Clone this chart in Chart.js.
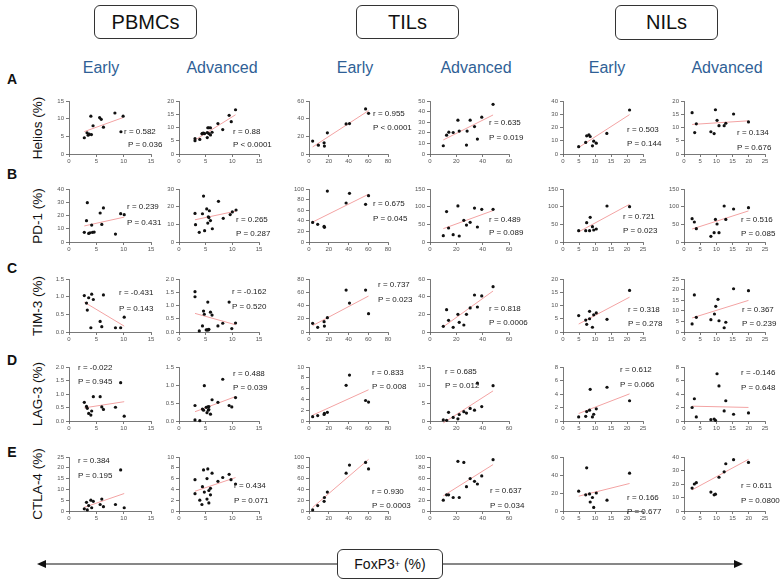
<!DOCTYPE html>
<html>
<head>
<meta charset="utf-8">
<script src="https://cdn.jsdelivr.net/npm/chart.js@4.4.1/dist/chart.umd.min.js"></script>
<style>
  body { margin: 0; width: 780px; height: 580px; position: relative; background: #fff; overflow: hidden;
         font-family: "Liberation Sans", Arial, sans-serif; color: #111; }
  .abs { position: absolute; white-space: nowrap; }
  .box { position: absolute; border: 1px solid #333; border-radius: 6px; background: #fff;
         display: flex; align-items: center; justify-content: center; }
  .head { font-size: 20px; }
  .stage { font-size: 16px; color: #2f5f96; transform: translate(-50%, -50%); }
  .letter { font-size: 14px; font-weight: bold; transform: translate(-50%, -50%); }
  .ytitle { font-size: 13.5px; transform: translate(-50%, -50%) rotate(-90deg); }
  .stat { font-size: 8px; color: #222; transform: translateY(-50%); }
  canvas { position: absolute; }
</style>
</head>
<body>
<svg class="abs" style="left:0;top:0" width="780" height="580">
  <line x1="44" y1="564" x2="337" y2="564" stroke="#111" stroke-width="1.2"/>
  <polygon points="37,564 46,560 46,568" fill="#111"/>
  <line x1="442" y1="564" x2="736" y2="564" stroke="#111" stroke-width="1.2"/>
  <polygon points="743,564 734,560 734,568" fill="#111"/>
</svg>
<div id="root"></div>
<script>
const groups = ['PBMCs', 'TILs', 'NILs'];
const stages = ['Early', 'Advanced', 'Early', 'Advanced', 'Early', 'Advanced'];
const markers = ['Helios (%)', 'PD-1 (%)', 'TIM-3 (%)', 'LAG-3 (%)', 'CTLA-4 (%)'];
const rowLetters = ['A', 'B', 'C', 'D', 'E'];

// x tick labels per column
const xTicksPbmc = ['0', '5', '10', '15'];
const xTicksTilEarly = ['0', '20', '40', '60', '80'];
const xTicksTilAdv = ['0', '20', '40', '60'];
const xTicksNil = ['0', '5', '10', '15', '20', '25'];
const xTicks = [xTicksPbmc, xTicksPbmc, xTicksTilEarly, xTicksTilAdv, xTicksNil, xTicksNil];

// y tick labels per row
const yTicksHelios = [['0','5','10','15'], ['0','5','10','15','20'], ['0','20','40','60'], ['0','10','20','30','40','50'], ['0','10','20','30','40'], ['0','5','10','15','20']];
const yTicksPd1 = [['0','10','20','30','40'], ['0','10','20','30'], ['0','20','40','60','80','100'], ['0','50','100','150'], ['0','50','100','150'], ['0','50','100','150']];
const yTicksTim3 = [['0.0','0.5','1.0','1.5'], ['0.0','0.5','1.0','1.5','2.0'], ['0','20','40','60','80'], ['0','20','40','60'], ['0','5','10','15','20'], ['0','5','10','15','20','25']];
const yTicksLag3 = [['0.0','0.5','1.0','1.5','2.0'], ['0.0','0.5','1.0','1.5'], ['0','2','4','6','8','10'], ['0','5','10','15'], ['0','2','4','6','8'], ['0','2','4','6','8']];
const yTicksCtla4 = [['0','5','10','15','20','25'], ['0','2','4','6','8','10'], ['0','20','40','60','80','100'], ['0','20','40','60','80','100'], ['0','20','40','60'], ['0','10','20','30','40']];

// points [FoxP3+, marker]
const heliosPbmcEarly = [[2.8,4.6],[3.3,6.0],[3.5,5.3],[3.7,5.6],[4.0,10.7],[4.1,5.5],[4.4,8.0],[5.6,10.3],[5.9,9.8],[6.3,7.6],[8.4,11.6],[9.5,6.3],[9.9,10.7]];
const heliosPbmcAdv = [[3.0,5.0],[3.0,5.8],[3.9,5.5],[4.3,7.6],[4.4,7.8],[4.6,7.9],[4.8,7.7],[5.3,6.2],[5.3,8.1],[5.4,9.9],[5.6,9.9],[5.6,7.7],[5.9,9.9],[5.9,7.2],[6.2,8.2],[7.3,11.5],[8.2,9.2],[9.4,14.6],[9.8,12.2],[10.6,16.7]];
const heliosTilEarly = [[3.7,14.6],[9.5,10],[15.3,12.7],[15.6,9.0],[18.6,24],[37.6,34],[41,34.5],[57.3,51],[60.3,46]];
const heliosTilAdv = [[10.1,7.8],[12.6,17.8],[14.3,20.6],[17.6,20.3],[21.2,31.9],[22.2,21.6],[28.2,21.6],[27.7,8.4],[30.5,31.9],[33.8,25.9],[36,14.1],[39.3,34.7],[47.9,46.9]];
const heliosNilEarly = [[4.9,5.5],[7.1,8.7],[7.4,13.7],[8.1,14.5],[8.5,13.2],[9.2,6.2],[9.6,9.7],[10.4,8.2],[13.7,15.5],[20.8,33.2]];
const heliosNilAdv = [[2.5,15.6],[3.3,8.1],[3.8,11.4],[8.3,8.4],[9.3,7.7],[9.7,16.7],[10.2,12.7],[10.8,10.7],[12.4,10.7],[12.9,11.6],[15.3,15.1],[19.9,12.1]];

const pd1PbmcEarly = [[2.8,7.3],[3.2,16.1],[3.35,29.7],[3.6,6.5],[3.85,7.0],[4.15,12.8],[4.3,7.3],[4.6,7.5],[5.7,21.9],[6.0,13.3],[6.3,25.7],[8.5,6.0],[9.45,21.4],[10.1,20.6]];
const pd1PbmcAdv = [[3.0,16.2],[3.1,9.8],[3.8,5.5],[4.4,16.0],[4.6,26],[4.8,6.4],[5.2,18.7],[5.4,10.7],[5.5,14.3],[5.6,13.8],[5.7,17.7],[5.9,12.1],[6.25,7.5],[7.4,23],[8.3,13.4],[9.6,15.5],[10,17],[10.7,18.1]];
const pd1TilEarly = [[3.7,37],[8.8,33.3],[15.3,29.6],[15.6,27.7],[18.6,96],[37.6,73.6],[41,91.8],[57.3,71],[60.3,87.4]];
const pd1TilAdv = [[10.1,17.9],[12.6,86],[14.1,39.6],[17.6,20.8],[21.2,102],[22.2,17],[25.7,61.3],[27.7,48],[30.5,55.7],[33.8,96],[36,42.5],[39.3,92.5],[47.9,92.5]];
const pd1NilEarly = [[4.9,32],[7.1,32],[7.4,54.7],[8.3,32],[8.5,69.8],[9.2,43.4],[9.6,34],[10.4,36.8],[13.75,101.9],[20.8,100]];
const pd1NilAdv = [[2.5,66],[3.2,56.6],[3.8,37.7],[8.3,16],[9.3,26.4],[9.7,64],[10.2,51],[10.8,26.4],[12.4,101.9],[12.9,64],[15.3,93.4],[19.9,97.2]];

const tim3PbmcEarly = [[2.8,1.03],[3.2,0.82],[3.35,0.62],[3.6,0.97],[4.15,1.07],[4.45,0.92],[4.0,0.12],[5.7,0.3],[6.0,0.15],[6.3,1.05],[8.5,0.12],[9.45,0.12],[10.1,0.42]];
const tim3PbmcAdv = [[3.0,1.52],[3.0,1.33],[3.8,0.04],[4.4,0.23],[4.6,0.79],[4.75,0.67],[5.1,0.08],[5.3,0.08],[5.4,1.13],[5.5,0.08],[5.6,0.1],[5.9,0.75],[6.2,0.64],[7.3,0.23],[8.2,0.33],[9.4,1.13],[9.9,0.13],[10.6,0.34]];
const tim3TilEarly = [[3.7,13.1],[8.8,7.0],[15.3,15.6],[15.6,9.0],[18.6,21.6],[37.6,63.3],[41,43.7],[57.3,63.3],[60.3,27.6]];
const tim3TilAdv = [[10.1,6.4],[12.6,25.3],[14.1,13.2],[17.6,5.3],[21.2,20],[22.2,11],[25.7,7.9],[27.7,20],[30.5,27.2],[33.8,41.9],[36,28.3],[39.3,40.8],[47.9,51.3]];
const tim3NilEarly = [[4.9,6.2],[7.1,4.5],[7.4,2.9],[8.3,5.0],[8.3,7.8],[9.2,1.8],[9.6,6.5],[10.4,7.2],[13.75,4.8],[20.8,15.7]];
const tim3NilAdv = [[2.5,3.8],[3.2,17.5],[3.8,6.9],[8.3,5.8],[9.4,8.5],[9.8,12.1],[10.5,15.4],[10.8,5.3],[12.4,2.0],[12.9,4.6],[15.3,20.4],[19.9,19.5]];

const lag3PbmcEarly = [[2.8,0.69],[3.2,0.54],[3.35,0.47],[3.6,0.28],[4.0,0.22],[4.15,0.37],[4.45,0.9],[5.7,0.9],[6.0,0.52],[6.3,0.43],[8.5,0.51],[9.45,1.42],[10.1,0.18]];
const lag3PbmcAdv = [[3.0,0.43],[3.0,0.03],[3.9,0.01],[4.4,0.33],[4.6,0.3],[4.75,0.98],[5.1,0.38],[5.25,0.23],[5.4,0.39],[5.5,0.3],[5.6,0.32],[5.6,0.4],[5.9,0.19],[6.2,0.59],[7.3,0.52],[8.2,1.16],[9.4,0.43],[9.9,0.39],[10.6,0.65]];
const lag3TilEarly = [[3.7,0.8],[8.8,1.0],[15.3,1.2],[15.6,1.4],[18.6,1.6],[37.6,6.6],[41,8.5],[57.3,3.8],[60.3,3.5]];
const lag3TilAdv = [[10.1,0.3],[12.6,0.2],[14.1,2.4],[17.6,1.0],[21.2,0.6],[22.2,1.8],[25.7,2.6],[27.7,2.2],[30.5,3.5],[33.8,3.0],[36,10.5],[39.3,4.0],[47.9,9.8]];
const lag3NilEarly = [[4.9,0.6],[7.1,0.7],[7.4,1.4],[8.3,1.6],[8.5,4.7],[9.2,0.6],[9.6,1.0],[10.4,1.8],[13.75,5.0],[20.8,3.0]];
const lag3NilAdv = [[2.5,2.0],[3.2,3.3],[3.8,0.6],[8.3,0.2],[9.3,0.3],[9.7,0.1],[10.2,7.0],[10.8,5.2],[12.4,1.5],[12.9,3.0],[15.3,1.0],[19.9,1.2]];

const ctla4PbmcEarly = [[2.8,1.0],[3.2,4.0],[3.35,0.5],[3.6,2.5],[4.0,5.0],[4.15,1.5],[4.45,4.5],[5.7,3.0],[6.0,5.5],[6.3,2.0],[8.5,3.0],[9.45,19.0],[10.1,1.5]];
const ctla4PbmcAdv = [[3.0,5.8],[3.0,3.2],[3.9,2.0],[4.3,1.2],[4.4,4.5],[4.6,7.6],[4.75,3.5],[5.25,2.2],[5.25,6.0],[5.4,7.8],[5.6,3.8],[5.6,1.5],[5.9,4.2],[5.9,3.0],[6.2,7.0],[7.3,5.5],[8.2,6.2],[9.4,6.8],[9.75,5.8],[10.6,5.0]];
const ctla4TilEarly = [[3.7,2],[8.8,10],[15.3,18],[15.6,25],[18.6,35],[37.6,70],[41,85],[57.3,90],[60.3,78]];
const ctla4TilAdv = [[10.1,20],[12.6,30],[14.1,30],[17.6,25],[21.2,92],[22.2,25],[25.7,90],[27.7,45],[30.5,60],[33.8,55],[36,50],[39.3,65],[47.9,95]];
const ctla4NilEarly = [[4.9,22],[7.1,18],[7.4,48],[8.3,19],[8.5,10],[9.2,15],[9.6,4],[10.4,20],[13.75,12],[20.8,42]];
const ctla4NilAdv = [[2.5,17],[3.2,20],[3.8,21],[8.3,14],[9.3,12],[9.7,12.5],[10.2,43],[10.8,25],[12.4,29],[12.9,35],[15.3,38],[19.9,36]];

// correlation text per row
const rHelios = ['0.582', '0.88', '0.955', '0.635', '0.503', '0.134'];
const pHelios = ['= 0.036', '< 0.0001', '< 0.0001', '= 0.019', '= 0.144', '= 0.676'];
const rPd1 = ['0.239', '0.265', '0.675', '0.489', '0.721', '0.516'];
const pPd1 = ['= 0.431', '= 0.287', '= 0.045', '= 0.089', '= 0.023', '= 0.085'];
const rTim3 = ['-0.431', '-0.162', '0.737', '0.818', '0.318', '0.367'];
const pTim3 = ['= 0.143', '= 0.520', '= 0.023', '= 0.0006', '= 0.278', '= 0.239'];
const rLag3 = ['-0.022', '0.488', '0.833', '0.685', '0.612', '-0.146'];
const pLag3 = ['= 0.945', '= 0.039', '= 0.008', '= 0.012', '= 0.066', '= 0.648'];
const rCtla4 = ['0.384', '0.434', '0.930', '0.637', '0.166', '0.611'];
const pCtla4 = ['= 0.195', '= 0.071', '= 0.0003', '= 0.034', '= 0.677', '= 0.0800'];

const points = [
  [heliosPbmcEarly, heliosPbmcAdv, heliosTilEarly, heliosTilAdv, heliosNilEarly, heliosNilAdv],
  [pd1PbmcEarly, pd1PbmcAdv, pd1TilEarly, pd1TilAdv, pd1NilEarly, pd1NilAdv],
  [tim3PbmcEarly, tim3PbmcAdv, tim3TilEarly, tim3TilAdv, tim3NilEarly, tim3NilAdv],
  [lag3PbmcEarly, lag3PbmcAdv, lag3TilEarly, lag3TilAdv, lag3NilEarly, lag3NilAdv],
  [ctla4PbmcEarly, ctla4PbmcAdv, ctla4TilEarly, ctla4TilAdv, ctla4NilEarly, ctla4NilAdv],
];
const yTicks = [yTicksHelios, yTicksPd1, yTicksTim3, yTicksLag3, yTicksCtla4];
const rTexts = [rHelios, rPd1, rTim3, rLag3, rCtla4];
const pTexts = [pHelios, pPd1, pTim3, pLag3, pCtla4];

// layout (page pixels)
const colLeft = [69, 179, 309, 430, 563, 684];
const colWidth = [82, 80, 79, 79, 80, 81];
const rowTop = [101, 189, 279, 367, 457];
const rowHeight = [53, 53, 53, 54, 54];
// r label x,y then P label x,y
const statPos = [
  [[124,131,128,144],[233,131,233,144],[373,113,373,127],[489,122,489,137],[627,129,627,143],[737,132,737,147]],
  [[127,206,127,222],[236,219,236,233],[373,203,373,218],[489,219,489,232],[623,216,623,230],[741,219,741,233]],
  [[119,292,119,308],[232,291,232,306],[378,284,378,299],[489,308,489,322],[628,309,628,323],[742,309,742,323]],
  [[78,367,78,381],[233,373,233,387],[372,372,372,386],[445,371,445,385],[620,369,620,384],[741,372,741,387]],
  [[78,460,78,475],[234,485,234,500],[372,491,372,505],[490,490,490,505],[627,497,627,511],[741,485,741,500]],
];

const root = document.getElementById('root');

function addDiv(cls, html, x, y) {
  const d = document.createElement('div');
  d.className = 'abs ' + cls;
  d.innerHTML = html;
  d.style.left = x + 'px';
  d.style.top = y + 'px';
  root.appendChild(d);
  return d;
}

function addBox(html, x, y, w, h, size) {
  const d = document.createElement('div');
  d.className = 'box';
  d.innerHTML = html;
  Object.assign(d.style, { left: x + 'px', top: y + 'px', width: w + 'px', height: h + 'px', fontSize: size + 'px' });
  root.appendChild(d);
}

addBox(groups[0], 94, 5, 101, 32, 20);
addBox(groups[1], 356, 5, 101, 32, 20);
addBox(groups[2], 615, 5, 101, 33, 20);
addBox('FoxP3<sup style="font-size:9px">+</sup>&nbsp;(%)', 337, 549, 104, 28, 14);

const stageX = [101, 222, 355, 476, 607, 727];
stages.forEach((s, i) => addDiv('stage', s, stageX[i], 68));

const letterY = [79, 174, 268, 360, 452];
rowLetters.forEach((l, i) => addDiv('letter', l, 12, letterY[i]));
markers.forEach((m, i) => addDiv('ytitle', m, 37, rowTop[i] + rowHeight[i] / 2));

function fitLine(pts) {
  const n = pts.length;
  let sx = 0, sy = 0, sxx = 0, sxy = 0;
  for (const [x, y] of pts) { sx += x; sy += y; sxx += x * x; sxy += x * y; }
  const b = (n * sxy - sx * sy) / (n * sxx - sx * sx);
  const a = (sy - b * sx) / n;
  const xs = pts.map(p => p[0]);
  const x0 = Math.min(...xs), x1 = Math.max(...xs);
  return [{ x: x0, y: a + b * x0 }, { x: x1, y: a + b * x1 }];
}

function axis(labels, isY) {
  const vals = labels.map(Number);
  return {
    type: 'linear',
    min: vals[0],
    max: vals[vals.length - 1],
    afterBuildTicks: s => { s.ticks = vals.map(v => ({ value: v })); },
    afterFit: s => { if (isY) s.width = 26; else s.height = 14; },
    ticks: {
      callback: (v, i) => labels[i],
      font: { size: 6, family: 'Liberation Sans' },
      color: '#555',
      padding: isY ? 2 : 1,
      autoSkip: false,
      maxRotation: 0,
    },
    grid: { drawOnChartArea: false, tickLength: 3, color: '#555', lineWidth: 0.8 },
    border: { color: '#555', width: 0.8 },
  };
}

for (let r = 0; r < 5; r++) {
  for (let c = 0; c < 6; c++) {
    const pts = points[r][c];
    const cv = document.createElement('canvas');
    const w = colWidth[c] + 26 + 8;
    const h = rowHeight[r] + 6 + 14;
    cv.width = w; cv.height = h;
    cv.style.left = (colLeft[c] - 26) + 'px';
    cv.style.top = (rowTop[r] - 6) + 'px';
    cv.style.width = w + 'px'; cv.style.height = h + 'px';
    root.appendChild(cv);

    new Chart(cv, {
      type: 'scatter',
      data: {
        datasets: [
          { type: 'line', data: fitLine(pts), borderColor: '#f3a3a3', borderWidth: 1, pointRadius: 0, clip: false, order: 2 },
          { data: pts.map(([x, y]) => ({ x, y })), backgroundColor: '#111', borderColor: '#111', borderWidth: 0, pointRadius: 1.6, clip: false, order: 1 },
        ],
      },
      options: {
        responsive: false,
        animation: false,
        events: [],
        layout: { autoPadding: false, padding: { left: 0, top: 6, right: 8, bottom: 0 } },
        plugins: { legend: { display: false }, tooltip: { enabled: false } },
        scales: { x: axis(xTicks[c], false), y: axis(yTicks[r][c], true) },
      },
    });

    const p = statPos[r][c];
    addDiv('stat', 'r = ' + rTexts[r][c], p[0], p[1]);
    addDiv('stat', 'P ' + pTexts[r][c], p[2], p[3]);
  }
}
</script>
</body>
</html>
